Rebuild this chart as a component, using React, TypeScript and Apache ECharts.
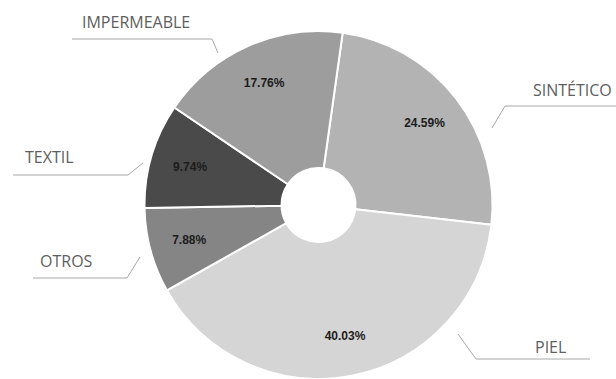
import React, { useEffect, useRef } from "react";
import * as echarts from "echarts";

// ---- data ----
const categories = ["SINTÉTICO", "PIEL", "OTROS", "TEXTIL", "IMPERMEABLE"];
const percentages = [24.59, 40.03, 7.88, 9.74, 17.76];

// ---- styles / layout (kept apart from the data) ----
const sliceColors = ["#b3b3b3", "#d5d5d5", "#858585", "#4a4a4a", "#9d9d9d"];
const categoryLabelLayout = [
  { x: 533, y: 90, line: [[492, 128], [505, 106], [616, 106]] },
  { x: 535, y: 347, line: [[458, 334], [476, 359], [590, 359]] },
  { x: 40, y: 261, line: [[140, 257], [127, 278], [33, 278]] },
  { x: 25, y: 157, line: [[143, 163], [128, 175], [13, 175]] },
  { x: 82, y: 22, line: [[218, 53], [212, 39], [72, 39]] },
];

export default function App() {
  const ref = useRef<HTMLDivElement>(null);

  useEffect(() => {
    document.body.style.margin = "0";
    if (!ref.current) return;
    const chart = echarts.init(ref.current, undefined, { renderer: "svg" });

    const baseData = categories.map((name, i) => ({
      name,
      value: percentages[i],
      itemStyle: { color: sliceColors[i] },
    }));
    const labelData = categories.map((name, i) => ({
      name,
      value: percentages[i],
    }));

    const center = [318.5, 205];
    const startAngle = 82;

    chart.setOption({
      animation: false,
      backgroundColor: "#ffffff",
      series: [
        {
          type: "pie",
          center,
          radius: [37, 174],
          startAngle,
          clockwise: true,
          avoidLabelOverlap: false,
          silent: true,
          itemStyle: { borderColor: "#ffffff", borderWidth: 2 },
          label: {
            show: true,
            position: "outside",
            formatter: "{b}",
            fontFamily: "Open Sans",
            fontSize: 16,
            color: "#5e5e5e",
          },
          labelLine: {
            show: true,
            length: 10,
            length2: 10,
            smooth: false,
            lineStyle: { color: "#a8a8a8", width: 1 },
          },
          labelLayout: (params: any) => {
            const L = categoryLabelLayout[params.dataIndex];
            return {
              x: L.x,
              y: L.y,
              align: "left",
              verticalAlign: "middle",
              labelLinePoints: L.line.map((p) => [p[0], p[1]]),
            };
          },
          emphasis: { disabled: true },
          data: baseData,
        },
        {
          type: "pie",
          center,
          radius: [88, 174],
          startAngle,
          clockwise: true,
          silent: true,
          avoidLabelOverlap: false,
          itemStyle: { color: "rgba(0,0,0,0)", borderWidth: 0 },
          label: {
            show: true,
            position: "inside",
            formatter: (p: any) => `${Number(p.value).toFixed(2)}%`,
            fontFamily: "Liberation Sans",
            fontWeight: "bold",
            fontSize: 12,
            color: "#1c1c1c",
          },
          labelLine: { show: false },
          emphasis: { disabled: true },
          data: labelData,
        },
      ],
    });

    return () => chart.dispose();
  }, []);

  return <div ref={ref} style={{ width: 616, height: 379 }} />;
}
